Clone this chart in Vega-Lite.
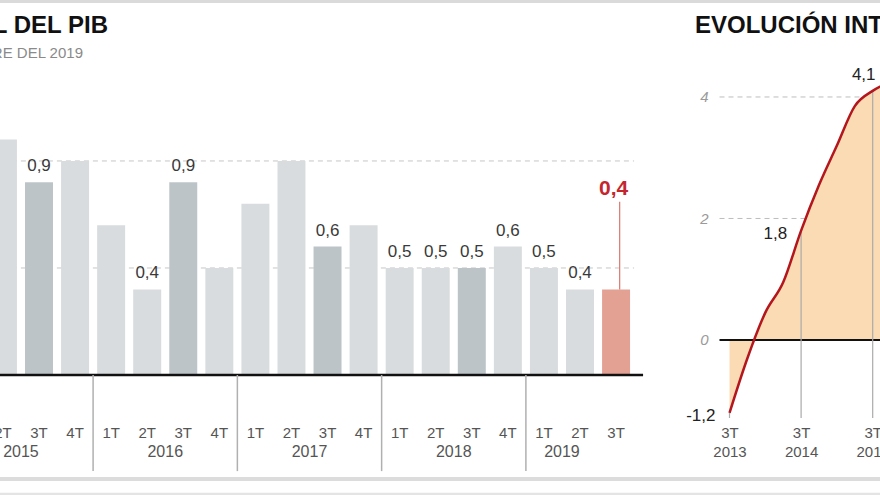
{
  "$schema": "https://vega.github.io/schema/vega-lite/v6.json",
  "width": 880,
  "height": 348,
  "autosize": {"type": "none"},
  "padding": {"left": 0, "right": 0, "top": 70, "bottom": 77},
  "background": "white",
  "config": {
    "font": "Liberation Sans",
    "view": {"stroke": null}
  },
  "datasets": {
    "trimestral": [
      {"p": "2015-2T", "anio": "2015", "t": "2T", "v": 1.1},
      {"p": "2015-3T", "anio": "2015", "t": "3T", "v": 0.9},
      {"p": "2015-4T", "anio": "2015", "t": "4T", "v": 1.0},
      {"p": "2016-1T", "anio": "2016", "t": "1T", "v": 0.7},
      {"p": "2016-2T", "anio": "2016", "t": "2T", "v": 0.4},
      {"p": "2016-3T", "anio": "2016", "t": "3T", "v": 0.9},
      {"p": "2016-4T", "anio": "2016", "t": "4T", "v": 0.5},
      {"p": "2017-1T", "anio": "2017", "t": "1T", "v": 0.8},
      {"p": "2017-2T", "anio": "2017", "t": "2T", "v": 1.0},
      {"p": "2017-3T", "anio": "2017", "t": "3T", "v": 0.6},
      {"p": "2017-4T", "anio": "2017", "t": "4T", "v": 0.7},
      {"p": "2018-1T", "anio": "2018", "t": "1T", "v": 0.5},
      {"p": "2018-2T", "anio": "2018", "t": "2T", "v": 0.5},
      {"p": "2018-3T", "anio": "2018", "t": "3T", "v": 0.5},
      {"p": "2018-4T", "anio": "2018", "t": "4T", "v": 0.6},
      {"p": "2019-1T", "anio": "2019", "t": "1T", "v": 0.5},
      {"p": "2019-2T", "anio": "2019", "t": "2T", "v": 0.4},
      {"p": "2019-3T", "anio": "2019", "t": "3T", "v": 0.4}
    ],
    "interanual": [
      {"p": "2013-3T", "t": "3T", "v": -1.2},
      {"p": "2013-4T", "t": "4T", "v": -0.3},
      {"p": "2014-1T", "t": "1T", "v": 0.45},
      {"p": "2014-2T", "t": "2T", "v": 0.95},
      {"p": "2014-3T", "t": "3T", "v": 1.8},
      {"p": "2014-4T", "t": "4T", "v": 2.55},
      {"p": "2015-1T", "t": "1T", "v": 3.2},
      {"p": "2015-2T", "t": "2T", "v": 3.85},
      {"p": "2015-3T", "t": "3T", "v": 4.1},
      {"p": "2015-4T", "t": "4T", "v": 4.25}
    ]
  },
  "layer": [
    {
      "data": {"name": "trimestral"},
      "transform": [{"calculate": "replace(format(datum.v, '.1f'), '.', ',')", "as": "rotulo"}],
      "layer": [
        {
          "transform": [{"filter": "datum.p == '2019-3T'"}],
          "mark": {"type": "rule", "color": "#dadada", "strokeWidth": 3},
          "encoding": {"y": {"datum": 1.745, "axis": null}}
        },
        {
          "transform": [{"filter": "datum.p == '2019-3T'"}],
          "mark": {"type": "rule", "color": "#dcdcdc", "strokeWidth": 4},
          "encoding": {"y": {"datum": -0.486, "axis": null}}
        },
        {
          "transform": [{"filter": "datum.p == '2019-3T'"}],
          "mark": {"type": "rule", "color": "#e4e4e4", "strokeWidth": 4},
          "encoding": {"y": {"datum": -0.56, "axis": null}}
        },
        {
          "transform": [{"filter": "datum.p == '2019-3T'"}],
          "mark": {"type": "text", "align": "right", "baseline": "alphabetic", "fontSize": 24, "fontWeight": "bold", "color": "#111111", "dx": 123.1, "dy": -37},
          "encoding": {
            "x": {"datum": "2015-2T", "type": "ordinal", "bandPosition": 0},
            "y": {"datum": 1.425, "axis": null},
            "text": {"value": "CRECIMIENTO TRIMESTRAL DEL PIB"}
          }
        },
        {
          "transform": [{"filter": "datum.p == '2019-3T'"}],
          "mark": {"type": "text", "align": "right", "baseline": "alphabetic", "fontSize": 15, "color": "#8a8a8a", "dx": 98.1, "dy": -12},
          "encoding": {
            "x": {"datum": "2015-2T", "type": "ordinal", "bandPosition": 0},
            "y": {"datum": 1.425, "axis": null},
            "text": {"value": "EN %. DATOS HASTA EL TERCER TRIMESTRE DEL 2019"}
          }
        },
        {
          "transform": [{"filter": "datum.p == '2019-3T'"}],
          "mark": {"type": "rule", "color": "#c6c6c6", "strokeWidth": 1, "strokeDash": [5, 4], "x2Offset": 18},
          "encoding": {
            "y": {"datum": 0.5, "axis": null},
            "x": {"datum": "2015-2T", "type": "ordinal", "bandPosition": 0},
            "x2": {"datum": "2019-3T"}
          }
        },
        {
          "transform": [{"filter": "datum.p == '2019-3T'"}],
          "mark": {"type": "rule", "color": "#c6c6c6", "strokeWidth": 1, "strokeDash": [5, 4], "x2Offset": 18},
          "encoding": {
            "y": {"datum": 1.0, "axis": null},
            "x": {"datum": "2015-2T", "type": "ordinal", "bandPosition": 0},
            "x2": {"datum": "2019-3T"}
          }
        },
        {
          "mark": {"type": "bar", "width": {"band": 0.776}},
          "encoding": {
            "x": {
              "field": "p", "type": "ordinal",
              "scale": {"type": "band", "range": [-15.1, 634.1], "paddingInner": 0, "paddingOuter": 0},
              "axis": {"orient": "bottom", "title": null, "labelExpr": "split(datum.value, '-')[1]", "domain": false, "ticks": false, "grid": false, "labelAngle": 0, "labelAlign": "center", "labelFontSize": 15, "labelColor": "#555555", "labelPadding": 7, "labelBaseline": "top"}
            },
            "y": {"field": "v", "type": "quantitative", "scale": {"domain": [-0.2009, 1.425], "nice": false, "zero": false}, "axis": null},
            "color": {
              "condition": [
                {"test": "datum.p == '2019-3T'", "value": "#e2a193"},
                {"test": "datum.t == '3T'", "value": "#bcc4c8"}
              ],
              "value": "#d9dcde"
            }
          }
        },
        {
          "transform": [{"filter": "indexof(['2015-3T','2016-2T','2016-3T','2017-3T','2018-1T','2018-2T','2018-3T','2018-4T','2019-1T','2019-2T'], datum.p) >= 0"}],
          "mark": {"type": "text", "fontSize": 17, "color": "#3a3a3a", "baseline": "alphabetic", "dy": -11},
          "encoding": {
            "x": {"field": "p", "type": "ordinal"},
            "y": {"field": "v", "type": "quantitative", "axis": null},
            "text": {"field": "rotulo", "type": "nominal"}
          }
        },
        {
          "transform": [{"filter": "datum.p == '2019-3T'"}],
          "mark": {"type": "rule", "color": "#111111", "strokeWidth": 2.5, "x2Offset": 27},
          "encoding": {
            "y": {"datum": 0, "axis": null},
            "x": {"datum": "2015-2T", "type": "ordinal", "bandPosition": 0},
            "x2": {"datum": "2019-3T"}
          }
        },
        {
          "transform": [{"filter": "datum.t == '1T'"}],
          "mark": {"type": "rule", "color": "#b0b0b0", "strokeWidth": 1.5},
          "encoding": {
            "x": {"field": "p", "type": "ordinal", "bandPosition": 0},
            "y": {"datum": 0, "axis": null},
            "y2": {"datum": -0.449}
          }
        },
        {
          "transform": [{"filter": "(datum.t == '2T' && datum.p < '2019') || datum.p == '2019-1T'"}],
          "mark": {"type": "text", "fontSize": 16, "color": "#555555", "baseline": "middle"},
          "encoding": {
            "x": {"field": "p", "type": "ordinal", "bandPosition": 1},
            "y": {"datum": -0.362, "axis": null},
            "text": {"field": "anio", "type": "nominal"}
          }
        },
        {
          "transform": [{"filter": "datum.p == '2019-3T'"}],
          "mark": {"type": "rule", "color": "#d9786e", "strokeWidth": 1.2},
          "encoding": {
            "x": {"field": "p", "type": "ordinal", "bandPosition": 0.6},
            "y": {"field": "v", "type": "quantitative", "axis": null},
            "y2": {"datum": 0.81}
          }
        },
        {
          "transform": [{"filter": "datum.p == '2019-3T'"}],
          "mark": {"type": "text", "fontSize": 21, "fontWeight": "bold", "color": "#c4262e", "baseline": "alphabetic"},
          "encoding": {
            "x": {"field": "p", "type": "ordinal", "bandPosition": 0.43},
            "y": {"datum": 0.841, "axis": null},
            "text": {"field": "rotulo", "type": "nominal"}
          }
        }
      ]
    },
    {
      "data": {"name": "interanual"},
      "transform": [{"calculate": "replace(replace(format(datum.v, '.1f'), '.', ','), '\u2212', '-')", "as": "rotulo"}],
      "layer": [
        {
          "transform": [{"filter": "datum.p == '2013-3T'"}],
          "mark": {"type": "rule", "color": "#bdbdbd", "strokeWidth": 1, "strokeDash": [5, 4], "xOffset": -10},
          "encoding": {
            "y": {"datum": 2},
            "x": {"datum": "2013-3T", "type": "ordinal"},
            "x2": {"datum": "2015-4T"}
          }
        },
        {
          "transform": [{"filter": "datum.p == '2013-3T'"}],
          "mark": {"type": "rule", "color": "#bdbdbd", "strokeWidth": 1, "strokeDash": [5, 4], "xOffset": -10},
          "encoding": {
            "y": {"datum": 4},
            "x": {"datum": "2013-3T", "type": "ordinal"},
            "x2": {"datum": "2015-4T"}
          }
        },
        {
          "mark": {"type": "area", "color": "#fbdbb3", "interpolate": "monotone"},
          "encoding": {
            "x": {
              "field": "p", "type": "ordinal",
              "scale": {"type": "point", "domain": ["2013-3T","2013-4T","2014-1T","2014-2T","2014-3T","2014-4T","2015-1T","2015-2T","2015-3T","2015-4T"], "range": [729.5, 890.6], "padding": 0},
              "axis": {"orient": "bottom", "values": ["2013-3T","2014-3T","2015-3T"], "labelExpr": "[split(datum.value, '-')[1], split(datum.value, '-')[0]]", "title": null, "domain": false, "ticks": false, "grid": false, "labelAngle": 0, "labelAlign": "center", "labelFontSize": 15, "labelColor": "#555555", "labelPadding": 7, "labelLineHeight": 19, "labelBaseline": "top"}
            },
            "y": {
              "field": "v", "type": "quantitative",
              "scale": {"domain": [-1.284, 4.444], "nice": false, "zero": false},
              "axis": {"orient": "left", "offset": -712, "values": [0, 2, 4], "format": "d", "domain": false, "ticks": false, "grid": false, "title": null, "labelFontStyle": "italic", "labelColor": "#9a9a9a", "labelFontSize": 15, "labelPadding": 4}
            },
            "y2": {"datum": 0}
          }
        },
        {
          "transform": [{"filter": "datum.p == '2013-3T'"}],
          "mark": {"type": "rule", "color": "#111111", "strokeWidth": 2, "xOffset": -10},
          "encoding": {
            "y": {"datum": 0},
            "x": {"datum": "2013-3T", "type": "ordinal"},
            "x2": {"datum": "2015-4T"}
          }
        },
        {
          "transform": [{"filter": "datum.t == '3T'"}],
          "mark": {"type": "rule", "color": "#aaaaaa", "strokeWidth": 1.2},
          "encoding": {
            "x": {"field": "p", "type": "ordinal"},
            "y": {"field": "v", "type": "quantitative"},
            "y2": {"datum": -1.284}
          }
        },
        {
          "mark": {"type": "line", "color": "#b3171d", "strokeWidth": 2.5, "interpolate": "monotone"},
          "encoding": {
            "x": {"field": "p", "type": "ordinal"},
            "y": {"field": "v", "type": "quantitative"}
          }
        },
        {
          "transform": [{"filter": "datum.p == '2013-3T' || datum.p == '2014-3T'"}],
          "mark": {"type": "text", "fontSize": 17, "color": "#222222", "align": "right", "baseline": "middle", "dx": -14, "dy": 3},
          "encoding": {
            "x": {"field": "p", "type": "ordinal"},
            "y": {"field": "v", "type": "quantitative"},
            "text": {"field": "rotulo", "type": "nominal"}
          }
        },
        {
          "transform": [{"filter": "datum.p == '2015-3T'"}],
          "mark": {"type": "text", "fontSize": 17, "color": "#222222", "align": "center", "baseline": "middle", "dx": -9, "dy": -16},
          "encoding": {
            "x": {"field": "p", "type": "ordinal"},
            "y": {"field": "v", "type": "quantitative"},
            "text": {"field": "rotulo", "type": "nominal"}
          }
        },
        {
          "transform": [{"filter": "datum.p == '2013-3T'"}],
          "mark": {"type": "text", "align": "left", "baseline": "alphabetic", "fontSize": 24, "fontWeight": "bold", "color": "#111111", "dx": -34.5, "dy": -37},
          "encoding": {
            "x": {"datum": "2013-3T", "type": "ordinal"},
            "y": {"datum": 4.444},
            "text": {"value": "EVOLUCIÓN INTERANUAL DEL PIB"}
          }
        }
      ]
    }
  ],
  "resolve": {"scale": {"x": "independent", "y": "independent"}}
}
